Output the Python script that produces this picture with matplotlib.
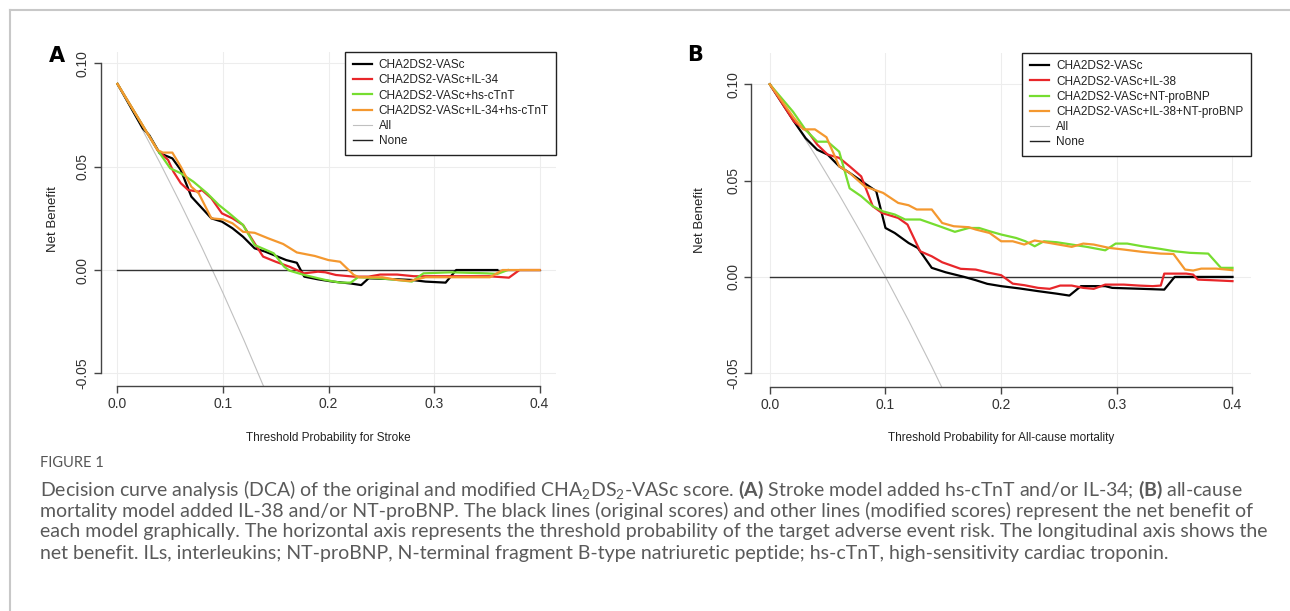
import matplotlib
matplotlib.use('Agg')
import matplotlib.pyplot as plt
from matplotlib.lines import Line2D

# ---- panel A: stroke ----
a_all_x = [0.0, 0.02, 0.04, 0.06, 0.08, 0.10, 0.12, 0.14]
a_all_y = [0.090, 0.0714, 0.0521, 0.0319, 0.0109, -0.0111, -0.0341, -0.0581]

a_black_x = [0, 0.024, 0.030, 0.040, 0.052, 0.060, 0.070, 0.089, 0.099, 0.109, 0.119, 0.130, 0.140,
             0.160, 0.170, 0.177, 0.190, 0.204, 0.221, 0.231, 0.238, 0.265, 0.279, 0.292, 0.311, 0.321, 0.360]
a_black_y = [0.090, 0.0685, 0.0653, 0.0565, 0.054, 0.0484, 0.0355, 0.025, 0.0234, 0.0202, 0.0161, 0.0105, 0.0089,
             0.0048, 0.0035, -0.0032, -0.0045, -0.0056, -0.0065, -0.0073, -0.004, -0.0045, -0.0048, -0.0056, -0.0061, 0.0, 0.0]

a_red_x = [0, 0.038, 0.048, 0.053, 0.060, 0.067, 0.077, 0.080, 0.089, 0.099, 0.109, 0.119, 0.130, 0.138, 0.150,
           0.163, 0.177, 0.190, 0.197, 0.207, 0.224, 0.238, 0.249, 0.265, 0.281, 0.292, 0.352, 0.371, 0.381, 0.400]
a_red_y = [0.090, 0.058, 0.0532, 0.0476, 0.042, 0.0387, 0.0379, 0.0387, 0.0347, 0.0274, 0.025, 0.0218, 0.0129, 0.0065, 0.004,
           0.0016, -0.0016, -0.0008, -0.0011, -0.0024, -0.0032, -0.0032, -0.0022, -0.0022, -0.0030, -0.0030, -0.0030, -0.0037, 0.0, 0.0]

a_green_x = [0, 0.038, 0.050, 0.060, 0.072, 0.085, 0.096, 0.106, 0.119, 0.130, 0.148, 0.158, 0.163, 0.177,
             0.197, 0.211, 0.221, 0.228, 0.248, 0.265, 0.279, 0.290, 0.316, 0.350, 0.360, 0.370]
a_green_y = [0.090, 0.058, 0.0492, 0.0468, 0.0427, 0.0371, 0.0315, 0.0274, 0.0218, 0.0121, 0.0081, 0.0016, -0.0003, -0.0024,
             -0.0048, -0.0061, -0.0061, -0.0035, -0.004, -0.0048, -0.0056, -0.0016, -0.0011, -0.0016, -0.0019, 0.0]

a_orange_x = [0, 0.038, 0.043, 0.052, 0.060, 0.070, 0.077, 0.089, 0.100, 0.109, 0.119, 0.130, 0.143, 0.157,
              0.170, 0.187, 0.200, 0.211, 0.224, 0.229, 0.251, 0.265, 0.277, 0.292, 0.353, 0.365, 0.400]
a_orange_y = [0.090, 0.058, 0.0568, 0.0568, 0.050, 0.0403, 0.0371, 0.025, 0.0245, 0.0226, 0.0185, 0.018, 0.0153, 0.0126,
              0.0085, 0.0068, 0.0048, 0.004, -0.0024, -0.0035, -0.0035, -0.0048, -0.0053, -0.0035, -0.0035, 0.0, 0.0]

a_labels = ['CHA2DS2-VASc', 'CHA2DS2-VASc+IL-34', 'CHA2DS2-VASc+hs-cTnT', 'CHA2DS2-VASc+IL-34+hs-cTnT', 'All', 'None']

# ---- panel B: all-cause mortality ----
b_all_x = [0.0, 0.02, 0.04, 0.06, 0.08, 0.10, 0.12, 0.14, 0.16]
b_all_y = [0.100, 0.0816, 0.0625, 0.0426, 0.0217, 0.0, -0.0227, -0.0465, -0.0714]

b_black_x = [0, 0.021, 0.031, 0.041, 0.050, 0.060, 0.069, 0.082, 0.092, 0.100, 0.108, 0.120, 0.128, 0.140, 0.152,
             0.168, 0.178, 0.188, 0.200, 0.216, 0.232, 0.248, 0.259, 0.269, 0.290, 0.296, 0.322, 0.341, 0.350, 0.400]
b_black_y = [0.100, 0.0806, 0.072, 0.066, 0.0635, 0.0574, 0.054, 0.0486, 0.0445, 0.0254, 0.0228, 0.0176, 0.015, 0.0047, 0.0024,
             0.0, -0.0017, -0.0036, -0.0048, -0.006, -0.0074, -0.0087, -0.0097, -0.0048, -0.0048, -0.0057, -0.0062, -0.0066, 0.0, 0.0]

b_red_x = [0, 0.021, 0.033, 0.041, 0.050, 0.060, 0.069, 0.079, 0.089, 0.097, 0.111, 0.119, 0.130, 0.140, 0.149, 0.165,
           0.178, 0.190, 0.200, 0.210, 0.220, 0.232, 0.242, 0.251, 0.261, 0.271, 0.280, 0.290, 0.306, 0.319, 0.331,
           0.338, 0.341, 0.360, 0.366, 0.370, 0.382, 0.400]
b_red_y = [0.100, 0.0806, 0.0754, 0.0687, 0.0635, 0.0618, 0.0574, 0.0522, 0.0367, 0.0332, 0.0306, 0.0272, 0.0133, 0.0107, 0.0076, 0.0042,
           0.0038, 0.0021, 0.0009, -0.0035, -0.0043, -0.0057, -0.0062, -0.0045, -0.0045, -0.0057, -0.0062, -0.004, -0.004, -0.0045, -0.0048,
           -0.0045, 0.0017, 0.0017, 0.0012, -0.0014, -0.0017, -0.0022]

b_green_x = [0, 0.020, 0.031, 0.041, 0.050, 0.060, 0.069, 0.079, 0.089, 0.098, 0.108, 0.117, 0.130, 0.140, 0.149, 0.160,
             0.172, 0.181, 0.190, 0.200, 0.213, 0.221, 0.229, 0.237, 0.248, 0.261, 0.274, 0.290, 0.299, 0.309, 0.322,
             0.338, 0.350, 0.363, 0.379, 0.390, 0.400]
b_green_y = [0.100, 0.0858, 0.0763, 0.0702, 0.0702, 0.065, 0.046, 0.0419, 0.0367, 0.034, 0.0324, 0.0298, 0.0298, 0.0277, 0.0258, 0.0234,
             0.0254, 0.0254, 0.0237, 0.022, 0.0202, 0.0185, 0.0159, 0.0185, 0.018, 0.0168, 0.0156, 0.0138, 0.0173, 0.0173, 0.0159,
             0.0145, 0.0133, 0.0125, 0.0121, 0.0047, 0.0047]

b_orange_x = [0, 0.021, 0.029, 0.039, 0.049, 0.060, 0.069, 0.082, 0.098, 0.111, 0.120, 0.127, 0.140, 0.149, 0.159, 0.172,
              0.178, 0.190, 0.200, 0.210, 0.220, 0.229, 0.242, 0.261, 0.271, 0.280, 0.293, 0.306, 0.322, 0.338, 0.349,
              0.359, 0.366, 0.373, 0.386, 0.400]
b_orange_y = [0.100, 0.0824, 0.0766, 0.0766, 0.0725, 0.0574, 0.054, 0.047, 0.0436, 0.0384, 0.0372, 0.035, 0.035, 0.028, 0.0263, 0.0258,
              0.0246, 0.0228, 0.0185, 0.0185, 0.0168, 0.0189, 0.0176, 0.0156, 0.0173, 0.0168, 0.0151, 0.0142, 0.013, 0.0121, 0.0119,
              0.0038, 0.0033, 0.0043, 0.0043, 0.0035]

b_labels = ['CHA2DS2-VASc', 'CHA2DS2-VASc+IL-38', 'CHA2DS2-VASc+NT-proBNP', 'CHA2DS2-VASc+IL-38+NT-proBNP', 'All', 'None']

x_ticks = [0.0, 0.1, 0.2, 0.3, 0.4]
y_ticks = [-0.05, 0.0, 0.05, 0.10]

caption_lines = [
    r'Decision curve analysis (DCA) of the original and modified CHA$_2$DS$_2$-VASc score. $\mathbf{(A)}$ Stroke model added hs-cTnT and/or IL-34; $\mathbf{(B)}$ all-cause',
    'mortality model added IL-38 and/or NT-proBNP. The black lines (original scores) and other lines (modified scores) represent the net benefit of',
    'each model graphically. The horizontal axis represents the threshold probability of the target adverse event risk. The longitudinal axis shows the',
    'net benefit. ILs, interleukins; NT-proBNP, N-terminal fragment B-type natriuretic peptide; hs-cTnT, high-sensitivity cardiac troponin.',
]

W, H = 1290, 611
colors = ['#000000', '#E8262A', '#76DD30', '#F4982F']

plt.rcParams['font.family'] = ['Liberation Sans', 'DejaVu Sans']
plt.rcParams['mathtext.fontset'] = 'custom'
plt.rcParams['mathtext.rm'] = 'Lato'
plt.rcParams['mathtext.bf'] = 'Lato:bold'
plt.rcParams['mathtext.it'] = 'Lato:italic'

fig = plt.figure(figsize=(W / 100, H / 100), dpi=100)


def px_axes(left, top, right, bottom):
    return fig.add_axes([left / W, 1 - bottom / H, (right - left) / W, (bottom - top) / H])


def dca_panel(ax, ylim, all_x, all_y, curves, labels, xlabel, letter, letter_xy, ylab_x):
    ax.set_xlim(-0.016, 0.416)
    ax.set_ylim(*ylim)
    for t in x_ticks:
        ax.axvline(t, color='#EDEDED', lw=0.8, zorder=0)
    for t in y_ticks:
        ax.axhline(t, color='#EDEDED', lw=0.8, zorder=0)

    ax.plot(all_x, all_y, color='#C0C0C0', lw=0.8, zorder=2)
    ax.plot([0, 0.4], [0, 0], color='#333333', lw=1.0, zorder=2)
    for (cx, cy), c in zip(curves, colors):
        ax.plot(cx, cy, color=c, lw=1.6, zorder=3)

    for s in ['top', 'right']:
        ax.spines[s].set_visible(False)
    ax.spines['left'].set_bounds(-0.05, 0.10)
    ax.spines['bottom'].set_bounds(0.0, 0.4)
    for s in ['left', 'bottom']:
        ax.spines[s].set_color('#444444')
        ax.spines[s].set_linewidth(1.0)

    ax.set_xticks(x_ticks)
    ax.set_xticklabels(['0.0', '0.1', '0.2', '0.3', '0.4'])
    ax.set_yticks(y_ticks)
    ax.set_yticklabels(['-0.05', '0.00', '0.05', '0.10'])
    ax.tick_params(length=5, width=1, color='#444444', labelsize=10, labelcolor='#333333', pad=3)
    plt.setp(ax.get_yticklabels(), rotation=90, va='center')

    ax.set_xlabel(xlabel, fontsize=8.5, color='#222222', va='center')
    ax.xaxis.set_label_coords(0.5, -0.155)
    ax.set_ylabel('Net Benefit', fontsize=9.5, color='#222222', va='center')
    ax.yaxis.set_label_coords(ylab_x, 0.5)

    handles = [Line2D([], [], color=c, lw=1.6) for c in colors]
    handles += [Line2D([], [], color='#C0C0C0', lw=0.8), Line2D([], [], color='#222222', lw=1.0)]
    leg = ax.legend(handles, labels, loc='upper right', borderaxespad=0, fancybox=False,
                    edgecolor='#222222', framealpha=1, handlelength=1.6,
                    handletextpad=0.6, labelspacing=0.27, borderpad=0.65, fontsize=8.5)
    leg.get_frame().set_linewidth(1.0)
    for t in leg.get_texts():
        t.set_color('#222222')

    fig.text(letter_xy[0] / W, 1 - letter_xy[1] / H, letter, fontsize=15, fontweight='bold',
             ha='center', va='center', family=['DejaVu Sans'])


ax_a = px_axes(100.6, 51.5, 556.4, 386)
dca_panel(ax_a, (-0.0561, 0.1057), a_all_x, a_all_y,
          [(a_black_x, a_black_y), (a_red_x, a_red_y), (a_green_x, a_green_y), (a_orange_x, a_orange_y)],
          a_labels, 'Threshold Probability for Stroke', 'A', (57, 56), -0.105)

ax_b = px_axes(751.3, 52.7, 1251.0, 386.5)
dca_panel(ax_b, (-0.0569, 0.1164), b_all_x, b_all_y,
          [(b_black_x, b_black_y), (b_red_x, b_red_y), (b_green_x, b_green_y), (b_orange_x, b_orange_y)],
          b_labels, 'Threshold Probability for All-cause mortality', 'B', (695, 55), -0.102)

# light frame of the figure page
fig.add_artist(Line2D([10 / W, 10 / W], [0, 1 - 10 / H], color='#C8C8C8', lw=1.5))
fig.add_artist(Line2D([10 / W, 1], [1 - 10 / H, 1 - 10 / H], color='#C8C8C8', lw=1.5))

fig.text(40 / W, 1 - 463 / H, 'FIGURE 1', fontsize=10.5, color='#555555', family=['Lato', 'DejaVu Sans'],
         ha='left', va='center')
for i, line in enumerate(caption_lines):
    fig.text(40 / W, 1 - (490 + 21 * i) / H, line, fontsize=14.0, color='#5a5a5a',
             family=['Lato', 'DejaVu Sans'], ha='left', va='center')

fig.savefig('out.png', dpi=100)
